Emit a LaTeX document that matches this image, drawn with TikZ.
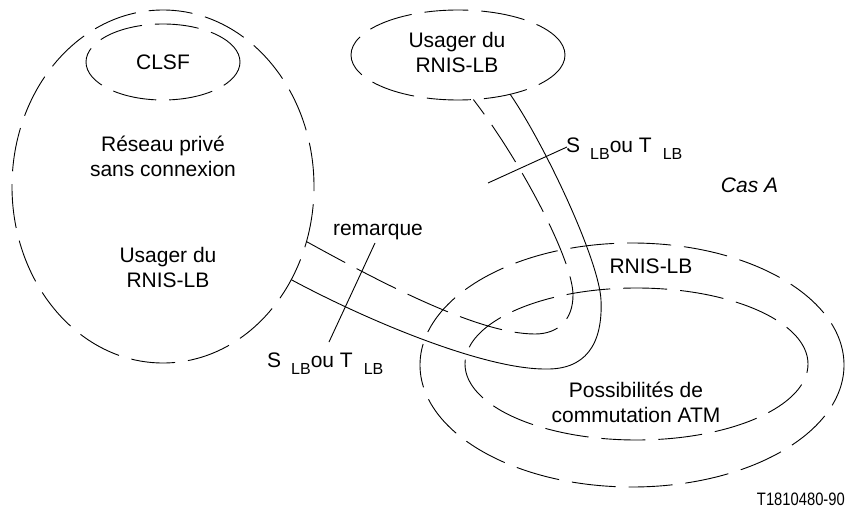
\documentclass[tikz,border=0pt]{standalone}
\usepackage{fontspec}
\setmainfont{Liberation Sans}
\usetikzlibrary{shapes.geometric}
\newcommand{\SLBlabel}{S\hspace{10pt}\raisebox{-7pt}{\fontsize{16}{16}\selectfont LB}ou T\hspace{11pt}\raisebox{-7pt}{\fontsize{16}{16}\selectfont LB}}
\begin{document}
\begin{tikzpicture}[x=1pt,y=-1pt,
  dsh/.style={dash pattern=on 44pt off 13pt, line width=0.9pt},
  oval/.style={ellipse, draw, dsh, inner sep=0pt, outer sep=0pt},
  lbl/.style={font=\fontsize{21}{25}\selectfont, align=center, inner sep=0pt},
  ln/.style={line width=0.9pt}]
\useasboundingbox[fill=white] (0,0) rectangle (846,511);
% dashed regions
\node[oval, minimum width=302pt, minimum height=353pt] (prive) at (163,186.5) {};
\node[oval, minimum width=154pt, minimum height=76pt] (clsf) at (163,62) {};
\node[oval, minimum width=214pt, minimum height=90pt] (usr) at (458,55) {};
\node[oval, minimum width=424pt, minimum height=244pt] (rnis) at (632,365) {};
\node[oval, minimum width=343pt, minimum height=152pt] (atm) at (636.5,364) {};
% labels
\node[lbl] (tclsf) at (163,62) {CLSF};
\node[lbl] (treseau) at (163,156) {Réseau privé\\sans connexion};
\node[lbl] (tusr1) at (168,267) {Usager du\\RNIS-LB};
\node[lbl] (tusr2) at (457,52) {Usager du\\RNIS-LB};
\node[lbl, anchor=base] (trem) at (378,235) {remarque};
\node[lbl, anchor=base] (trnis) at (651,273) {RNIS-LB};
\node[lbl] (tatm) at (636,402) {Possibilités de\\commutation ATM};
\node[lbl, anchor=base, font=\fontsize{21}{25}\selectfont\itshape] (tcas) at (749.5,192) {Cas A};
\node[anchor=base east, inner sep=0pt, font=\fontsize{18}{18}\selectfont] (tref) at (845,505) {\scalebox{0.82}[1]{T1810480-90}};
\node[lbl, anchor=base west] (slb1) at (267,367) {\SLBlabel};
\node[lbl, anchor=base west] (slb2) at (566,152) {\SLBlabel};
% interface tube
\draw[ln] (prive.-36.2) .. controls (372,323) and (485,369) .. (545,369)
  .. controls (585,370) and (603,345) .. (601,300)
  .. controls (599,260) and (545,145) .. (usr.-37);
\draw[dsh] (prive.-21.9) .. controls (387,286) and (480,334) .. (535,334)
  .. controls (558,334) and (573,320) .. (573,295)
  .. controls (573,260) and (520,160) .. (usr.-71.6);
% reference point ticks
\coordinate (r1) at (375,243);
\coordinate (r2) at (329,342);
\coordinate (q1) at (488,183);
\coordinate (q2) at (567,147);
\draw[ln] (r1) -- (r2);
\draw[ln] (q1) -- (q2);
\end{tikzpicture}
\end{document}
